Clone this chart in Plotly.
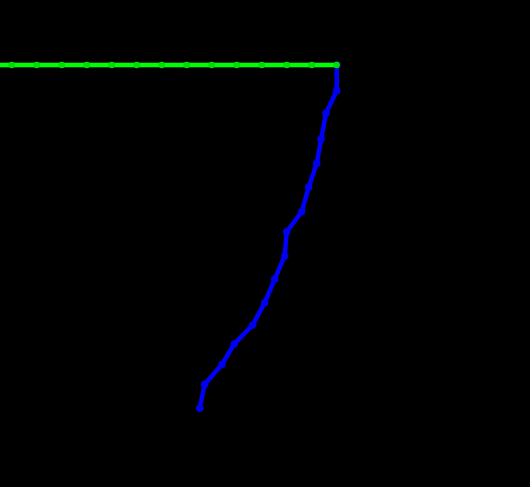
import plotly.graph_objects as go

# Green series (horizontal)
green_x = [-1, 0, 1, 2, 3, 4, 5, 6, 7, 8, 9, 10, 11, 12, 13]
green_y = [0] * 15

# Blue series (descending)
blue_x = [13.0, 13.0, 12.57, 12.37, 12.2, 11.88, 11.6, 11.0, 10.92, 10.52, 10.12, 9.64, 8.9, 8.41, 7.72, 7.52]
blue_y = [0.0, 1.06, 1.99, 3.06, 4.05, 5.03, 6.04, 6.86, 7.86, 8.82, 9.78, 10.7, 11.48, 12.32, 13.14, 14.13]

fig = go.Figure()
fig.add_trace(go.Scatter(
    x=blue_x, y=blue_y, mode="lines+markers",
    line=dict(color="#0000ff", width=4.5),
    marker=dict(color="#0000ee", size=7.5),
    showlegend=False, hoverinfo="skip",
))
fig.add_trace(go.Scatter(
    x=green_x, y=green_y, mode="lines+markers",
    line=dict(color="#00ff00", width=4.5),
    marker=dict(color="#00dd00", size=6.5),
    showlegend=False, hoverinfo="skip",
))

fig.update_layout(
    width=530, height=487,
    margin=dict(l=0, r=0, t=0, b=0),
    paper_bgcolor="black", plot_bgcolor="black",
    xaxis=dict(range=[-0.468, 20.732], visible=False, showgrid=False, zeroline=False),
    yaxis=dict(range=[17.366, -2.675], visible=False, showgrid=False, zeroline=False),
    hovermode=False,
)

fig.write_html(
    "out.html",
    config={"displayModeBar": False, "staticPlot": True},
    post_script="document.body.style.margin='0';document.body.style.padding='0';document.body.style.background='black';document.body.style.overflow='hidden';",
)
